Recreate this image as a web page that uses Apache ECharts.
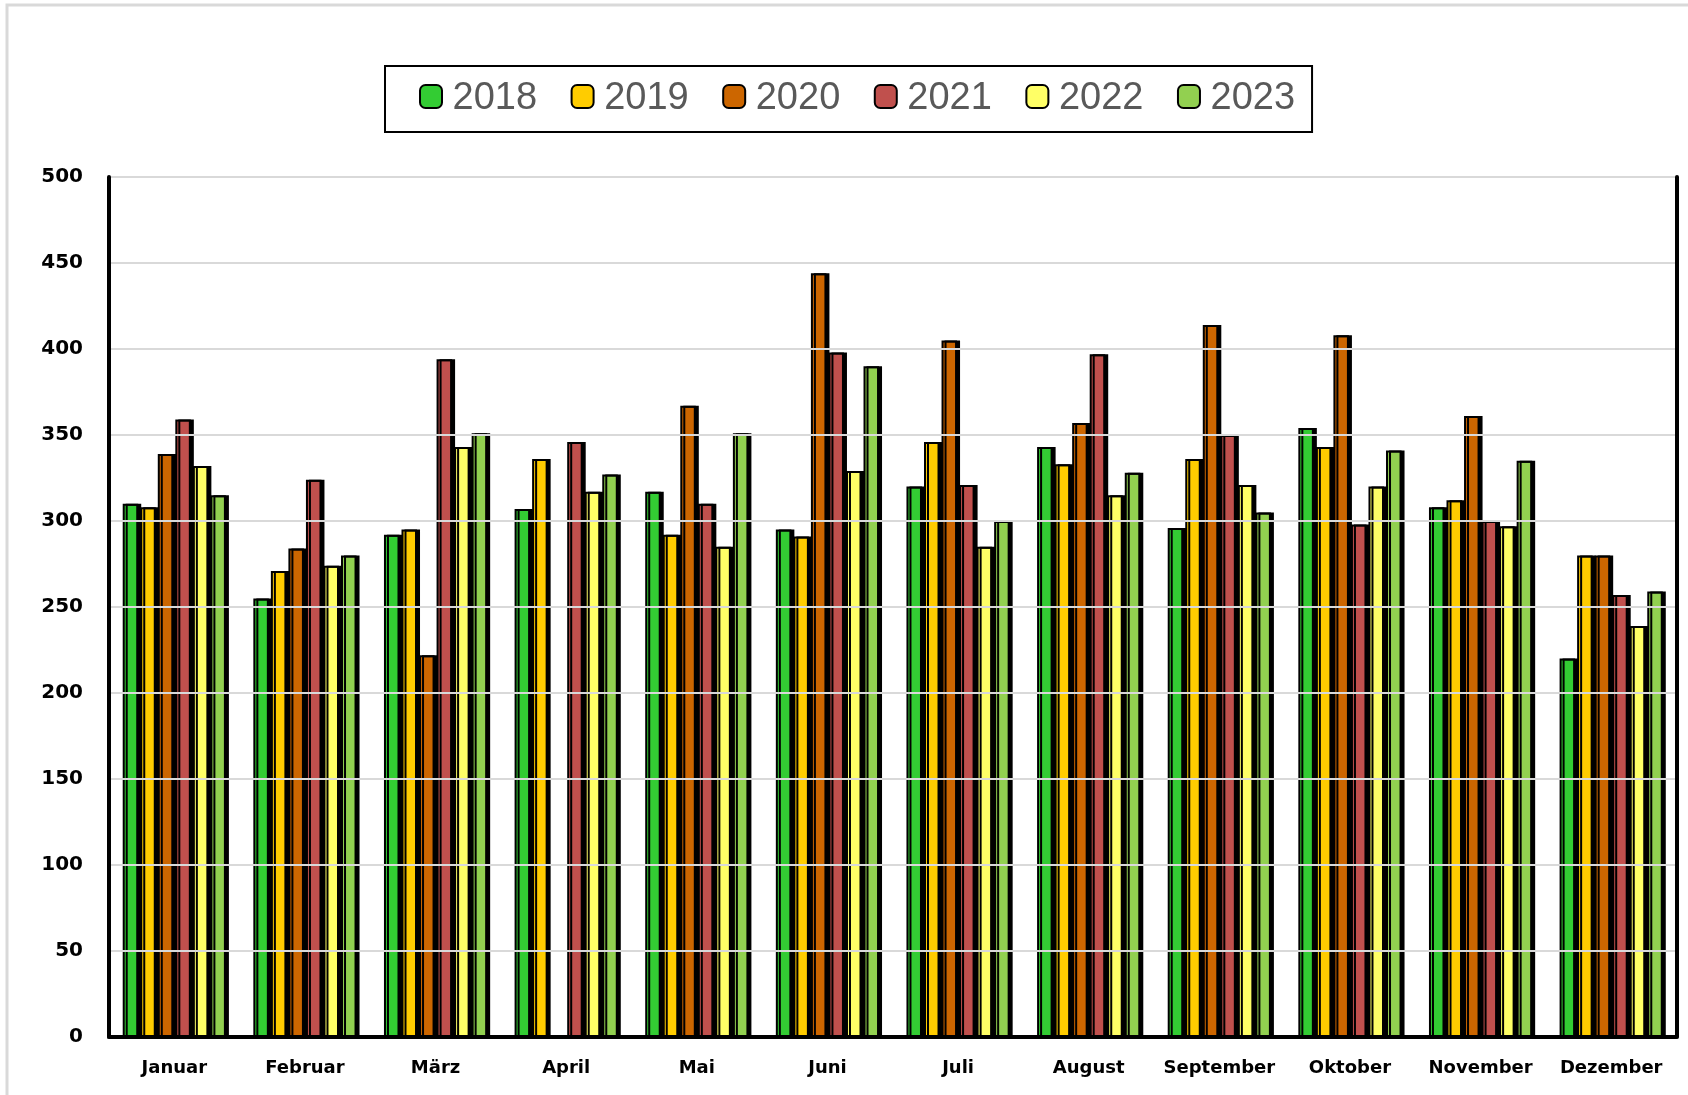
<!DOCTYPE html>
<html>
<head>
<meta charset="utf-8">
<script src="https://cdn.jsdelivr.net/npm/echarts@6/dist/echarts.min.js"></script>
<style>
html,body{margin:0;padding:0;background:#fff;}
#chart{width:1688px;height:1095px;}
</style>
</head>
<body>
<div id="chart"></div>
<script>
const months = ['Januar','Februar','März','April','Mai','Juni','Juli','August','September','Oktober','November','Dezember'];
const years = ['2018','2019','2020','2021','2022','2023'];
const v2018 = [310, 255, 292, 307, 317, 295, 320, 343, 296, 354, 308, 220];
const v2019 = [308, 271, 295, 336, 292, 291, 346, 333, 336, 343, 312, 280];
const v2020 = [339, 284, 222, null, 367, 444, 405, 357, 414, 408, 361, 280];
const v2021 = [359, 324, 394, 346, 310, 398, 321, 397, 350, 298, 300, 257];
const v2022 = [332, 274, 343, 317, 285, 329, 285, 315, 321, 320, 297, 239];
const v2023 = [315, 280, 351, 327, 351, 390, 300, 328, 305, 341, 335, 259];
const yTicks = [0, 50, 100, 150, 200, 250, 300, 350, 400, 450, 500];

const seriesValues = [v2018, v2019, v2020, v2021, v2022, v2023];
const colors = ['#33CC33', '#FFCC00', '#CC6600', '#C0504D', '#FFFF66', '#92D050'];

const chart = echarts.init(document.getElementById('chart'), null, {renderer: 'canvas'});

const series = years.map((y, i) => ({
  name: y,
  type: 'bar',
  xAxisIndex: 0,
  yAxisIndex: 0,
  data: seriesValues[i],
  barGap: '13%',
  barCategoryGap: '21%',
  itemStyle: {
    color: colors[i],
    borderColor: '#000',
    borderWidth: 2,
    shadowColor: 'rgba(0,0,0,1)',
    shadowOffsetX: 3,
    shadowOffsetY: 0,
    shadowBlur: 0
  },
  emphasis: {disabled: true},
  animation: false
}));

chart.setOption({
  backgroundColor: '#ffffff',
  animation: false,
  graphic: [{
    type: 'rect',
    shape: {x: 7, y: 5, width: 1700, height: 1100},
    style: {fill: 'none', stroke: '#d9d9d9', lineWidth: 3},
    z: -10, silent: true
  }],
  legend: {
    left: 385,
    top: 66,
    orient: 'horizontal',
    padding: [14, 17, 14, 34],
    borderColor: '#000',
    borderWidth: 2,
    itemWidth: 22,
    itemHeight: 23,
    itemGap: 33.5,
    data: years,
    formatter: function (name) { return '{s| }{n|' + name + '}'; },
    textStyle: {
      fontFamily: 'Liberation Sans',
      fontSize: 38,
      color: '#595959',
      rich: {
        s: {fontFamily: 'Liberation Sans', fontSize: 20},
        n: {fontFamily: 'Liberation Sans', fontSize: 38, color: '#595959', padding: [5, 0, 0, 0]}
      }
    }
  },
  grid: {
    left: 109,
    right: 11.5,
    top: 177,
    bottom: 58,
    containLabel: false
  },
  xAxis: [{
    type: 'category',
    data: months,
    position: 'bottom',
    axisLine: {show: true, lineStyle: {color: '#7f7f7f', width: 3}},
    axisTick: {show: false},
    axisLabel: {
      interval: 0,
      margin: 22,
      fontFamily: 'DejaVu Sans',
      fontWeight: 'bold',
      fontSize: 18,
      color: '#000'
    },
    splitLine: {show: false},
    z: 5
  }, {
    type: 'category',
    data: months,
    position: 'top',
    axisLine: {show: true, lineStyle: {color: '#000', width: 4}},
    axisTick: {show: false},
    axisLabel: {show: false},
    splitLine: {show: false},
    z: 5
  }],
  yAxis: [{
    type: 'value',
    min: yTicks[0],
    max: yTicks[yTicks.length - 1],
    interval: 50,
    position: 'left',
    axisLine: {show: true, lineStyle: {color: '#000', width: 4}},
    axisTick: {show: false},
    axisLabel: {
      margin: 26,
      fontFamily: 'DejaVu Sans',
      fontWeight: 'bold',
      fontSize: 20,
      color: '#000'
    },
    splitLine: {show: true, lineStyle: {color: '#d9d9d9', width: 2}},
    z: 5
  }, {
    type: 'value',
    min: yTicks[0],
    max: yTicks[yTicks.length - 1],
    interval: 50,
    position: 'right',
    axisLine: {show: true, lineStyle: {color: '#000', width: 4}},
    axisTick: {show: false},
    axisLabel: {show: false},
    splitLine: {show: false},
    z: 5
  }],
  series: series
});
</script>
</body>
</html>
